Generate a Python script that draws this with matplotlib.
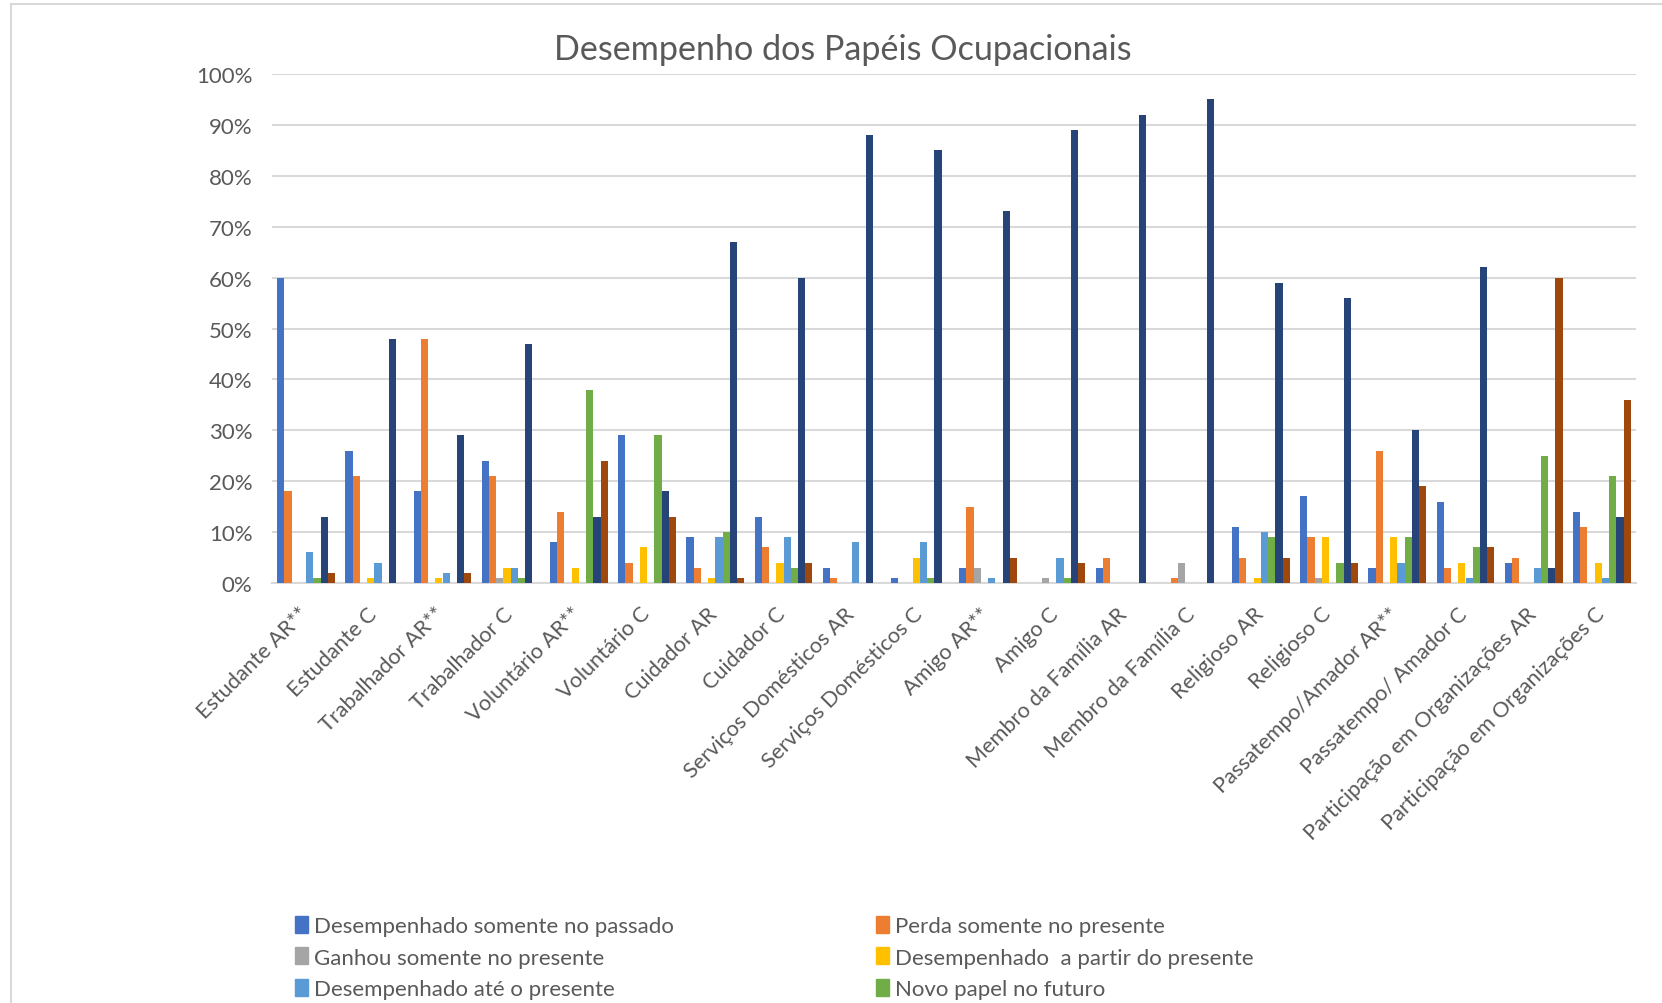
import numpy as np
import matplotlib
matplotlib.use("Agg")
import matplotlib.pyplot as plt
import matplotlib.transforms as mtransforms
from matplotlib.patches import Rectangle, Patch

plt.rcParams['font.family'] = ['Lato', 'DejaVu Sans']

# categorias (papéis)
categorias = ["Estudante AR**", "Estudante C", "Trabalhador AR**", "Trabalhador C",
              "Voluntário AR**", "Voluntário C", "Cuidador AR", "Cuidador C",
              "Serviços Domésticos AR", "Serviços Domésticos C", "Amigo AR**", "Amigo C",
              "Membro da Família AR", "Membro da Família C", "Religioso AR", "Religioso C",
              "Passatempo/Amador AR**", "Passatempo/ Amador C",
              "Participação em Organizações AR", "Participação em Organizações C"]

# valores em %
passado      = [60, 26, 18, 24, 8, 29, 9, 13, 3, 1, 3, 0, 3, 0, 11, 17, 3, 16, 4, 14]
perda        = [18, 21, 48, 21, 14, 4, 3, 7, 1, 0, 15, 0, 5, 1, 5, 9, 26, 3, 5, 11]
ganhou       = [0, 0, 0, 1, 0, 0, 0, 0, 0, 0, 3, 1, 0, 4, 0, 1, 0, 0, 0, 0]
a_partir     = [0, 1, 1, 3, 3, 7, 1, 4, 0, 5, 0, 0, 0, 0, 1, 9, 9, 4, 0, 4]
ate_presente = [6, 4, 2, 3, 0, 0, 9, 9, 8, 8, 1, 5, 0, 0, 10, 0, 4, 1, 3, 1]
futuro       = [1, 0, 0, 1, 38, 29, 10, 3, 0, 1, 0, 1, 0, 0, 9, 4, 9, 7, 25, 21]
continuo     = [13, 48, 29, 47, 13, 18, 67, 60, 88, 85, 73, 89, 92, 95, 59, 56, 30, 62, 3, 13]
nunca        = [2, 0, 2, 0, 24, 13, 1, 4, 0, 0, 5, 4, 0, 0, 5, 4, 19, 7, 60, 36]

series = [
    ("Desempenhado somente no passado", passado, "#4472C4"),
    ("Perda somente no presente", perda, "#ED7D31"),
    ("Ganhou somente no presente", ganhou, "#A5A5A5"),
    ("Desempenhado  a partir do presente", a_partir, "#FFC000"),
    ("Desempenhado até o presente", ate_presente, "#5B9BD5"),
    ("Novo papel no futuro", futuro, "#70AD47"),
    ("Desempenhado continuamente", continuo, "#264478"),
    ("Nunca desempenhado", nunca, "#9E480E"),
]

W, H = 1662, 1004
fig = plt.figure(figsize=(W / 100, H / 100), dpi=100)
ax = fig.add_axes([272 / W, 1 - 584 / H, (1636 - 272) / W, (584 - 75) / H])

x = np.arange(len(categorias))
n = len(series)
bw = 0.85 / n
for i, (nome, vals, cor) in enumerate(series):
    ax.bar(x + (i - (n - 1) / 2) * bw, np.array(vals) / 100, bw, color=cor, label=nome, zorder=3)

ax.set_xlim(-0.5, len(categorias) - 0.5)
ax.set_ylim(0, 1)
ax.set_yticks(np.arange(0, 1.01, 0.1))
ax.set_yticklabels([f"{int(round(v * 100))}%" for v in np.arange(0, 1.01, 0.1)],
                   fontsize=16, color="#595959")
ax.set_xticks(x)
ax.set_xticklabels(categorias, rotation=45, ha="right", rotation_mode="anchor",
                   fontsize=15.6, color="#595959")
ax.tick_params(length=0, pad=14)
ax.tick_params(axis="x", pad=6)
# deslocar rótulos um pouco (como no Excel)
off = mtransforms.ScaledTranslation(-8 / 100, -12 / 100, fig.dpi_scale_trans)
for lbl in ax.get_xticklabels():
    lbl.set_transform(lbl.get_transform() + off)
ax.grid(axis="y", color="#D9D9D9", linewidth=1.5, zorder=0)
for s in ["top", "right", "left"]:
    ax.spines[s].set_visible(False)
ax.spines["bottom"].set_color("#D9D9D9")
ax.spines["bottom"].set_linewidth(1.5)

fig.text(843 / W, 1 - 50 / H, "Desempenho dos Papéis Ocupacionais",
         ha="center", va="center", fontsize=24.6, color="#595959")

# legenda em duas colunas (a última linha fica fora da figura)
col1 = [series[0], series[2], series[4], series[6]]
col2 = [series[1], series[3], series[5], series[7]]
for xpos, col in [(295 / W, col1), (876 / W, col2)]:
    hs = [Patch(color=c) for _, _, c in col]
    fig.legend(hs, [nm for nm, _, _ in col], loc="upper left",
               bbox_to_anchor=(xpos, 1 - 917 / H), frameon=False, fontsize=16,
               labelcolor="#595959", handlelength=0.6, handleheight=0.8,
               handletextpad=0.25, labelspacing=0.5, borderaxespad=0, borderpad=0)

fig.patches.append(Rectangle((11 / W, -0.1), 1.2, 1.1 - 5 / H, transform=fig.transFigure,
                             fill=False, edgecolor="#D9D9D9", linewidth=1.5))

fig.savefig("out.png", dpi=100)
